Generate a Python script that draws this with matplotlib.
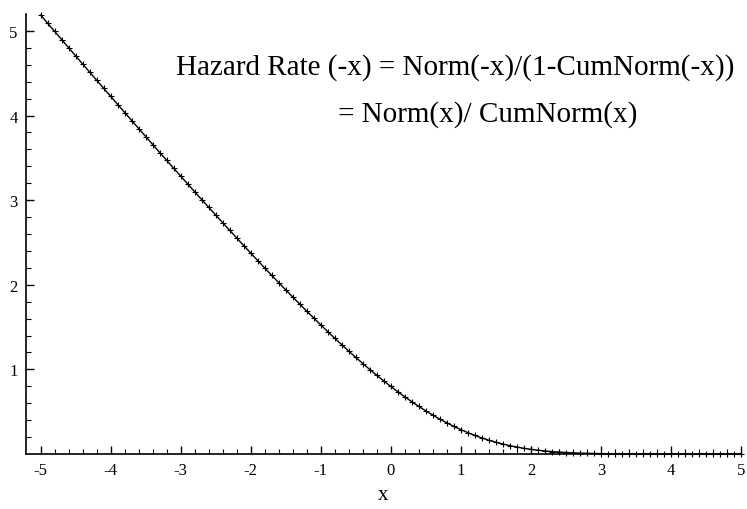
import matplotlib.pyplot as plt
import numpy as np

# x from -5 to 5, step 0.1
x_vals = [round(-5 + 0.1 * i, 1) for i in range(101)]

# hazard rate values (left to right)
hazard = [5.1865, 5.0898, 4.9932, 4.8968, 4.8005, 4.7043, 4.6082, 4.5123, 4.4165, 4.3209,
          4.2255, 4.1302, 4.0351, 3.9403, 3.8456, 3.7513, 3.6569, 3.5629, 3.4691, 3.3756,
          3.2831, 3.1903, 3.0979, 3.0058, 2.9141, 2.8227, 2.7320, 2.6426, 2.5518, 2.4624,
          2.3732, 2.2848, 2.1973, 2.1102, 2.0240, 1.9386, 1.8540, 1.7703, 1.6876, 1.6057,
          1.5251, 1.4457, 1.3674, 1.2905, 1.2150, 1.1411, 1.0687, 0.9982, 0.9294, 0.8626,
          0.7979, 0.7353, 0.6751, 0.6172, 0.5619, 0.5092, 0.4591, 0.4119, 0.3676, 0.3261,
          0.2876, 0.2520, 0.2194, 0.1897, 0.1629, 0.1388, 0.1174, 0.0984, 0.0819, 0.0676,
          0.0552, 0.0448, 0.0360, 0.0286, 0.0226, 0.0176, 0.0136, 0.0105, 0.0079, 0.0060,
          0.0044, 0.0033, 0.0024, 0.0017, 0.0012, 0.0009, 0.0006, 0.0004, 0.0003, 0.0002,
          0.0001, 0.0001, 0.0001, 0.0000, 0.0000, 0.0000, 0.0000, 0.0000, 0.0000, 0.0000,
          0.0000]

x_ticks = [-5, -4, -3, -2, -1, 0, 1, 2, 3, 4, 5]
y_ticks = [1, 2, 3, 4, 5]

plt.rcParams['font.family'] = ['Liberation Serif', 'DejaVu Serif']
plt.rcParams['axes.unicode_minus'] = False

fig = plt.figure(figsize=(7.47, 5.10), dpi=100)
ax = fig.add_axes([26 / 747, 1 - 455 / 510, 715 / 747, 440 / 510])

ax.plot(x_vals, hazard, color='black', linewidth=1.0, marker='+', markersize=4,
        markeredgewidth=0.8, clip_on=False)

ax.set_xlim(-5.21, 5.0)
ax.set_ylim(0, 5.2)
ax.set_xticks(x_ticks)
ax.set_yticks(y_ticks)
ax.set_xticks(np.arange(-5, 5.01, 0.2), minor=True)
ax.set_yticks(np.arange(0.2, 5.2, 0.2), minor=True)
ax.tick_params(which='major', direction='in', length=6, width=1, labelsize=12, pad=6)
ax.tick_params(which='minor', direction='in', length=3.5, width=0.8)

for s in ['top', 'right']:
    ax.spines[s].set_visible(False)
for s in ['left', 'bottom']:
    ax.spines[s].set_linewidth(1.2)

ax.set_xlabel('x', fontsize=15, labelpad=5)

fig.text(455 / 747, 1 - 68 / 510, 'Hazard Rate (-x) = Norm(-x)/(1-CumNorm(-x))',
         fontsize=21, ha='center', va='center')
fig.text(488 / 747, 1 - 115 / 510, '= Norm(x)/ CumNorm(x)',
         fontsize=21, ha='center', va='center')

fig.savefig('out.png', dpi=100)
